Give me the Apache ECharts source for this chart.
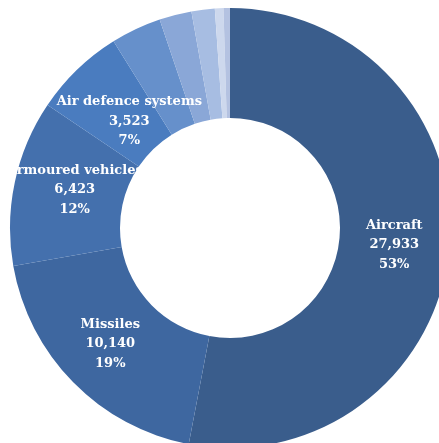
<!DOCTYPE html>
<html>
<head>
<meta charset="utf-8">
<script src="https://cdn.jsdelivr.net/npm/echarts@6/dist/echarts.min.js"></script>
<style>
  html, body { margin: 0; padding: 0; background: #ffffff; }
  #chart { width: 439px; height: 443px; }
</style>
</head>
<body>
<div id="chart"></div>
<script>
// Categories and delivered values, clockwise from 12 o'clock
const categories = ['Aircraft', 'Missiles', 'Armoured vehicles', 'Air defence systems',
                    'Ships', 'Sensors', 'Engines', 'Artillery', 'Other'];
const values = [27933, 10140, 6423, 3523, 1950, 1250, 900, 330, 250];
// Only the four largest segments carry a label
const labelled = [true, true, true, true, false, false, false, false, false];
const colors = ['#3a5d8c', '#3e67a0', '#4470ad', '#4a7cbf',
                '#6690cb', '#8aa7d7', '#a7bde2', '#cdd8ed', '#b4c2e1'];

const fmt = v => String(v).replace(/\B(?=(\d{3})+(?!\d))/g, ',');

// Small nudges so the labels sit where they read best inside the ring
const labelShift = [[-3, 1], [0, -2], [9, -3], [16, 14]];

const chart = echarts.init(document.getElementById('chart'), null, { renderer: 'canvas' });
chart.setOption({
  animation: false,
  series: [{
    type: 'pie',
    center: [230, 228],
    radius: [110, 220],
    startAngle: 90,
    clockwise: true,
    avoidLabelOverlap: false,
    itemStyle: { borderWidth: 0 },
    label: {
      position: 'inside',
      color: '#ffffff',
      fontFamily: '"DejaVu Serif", serif',
      fontWeight: 'bold',
      fontSize: 13,
      lineHeight: 19.5,
      formatter: p => labelled[p.dataIndex]
        ? p.name + '\n' + fmt(p.value) + '\n' + Math.round(p.percent) + '%'
        : ''
    },
    labelLine: { show: false },
    labelLayout: p => {
      const s = labelShift[p.dataIndex];
      return s ? { dx: s[0], dy: s[1] } : {};
    },
    emphasis: { disabled: true },
    data: categories.map((c, i) => ({
      name: c,
      value: values[i],
      itemStyle: { color: colors[i] }
    }))
  }]
});
</script>
</body>
</html>
